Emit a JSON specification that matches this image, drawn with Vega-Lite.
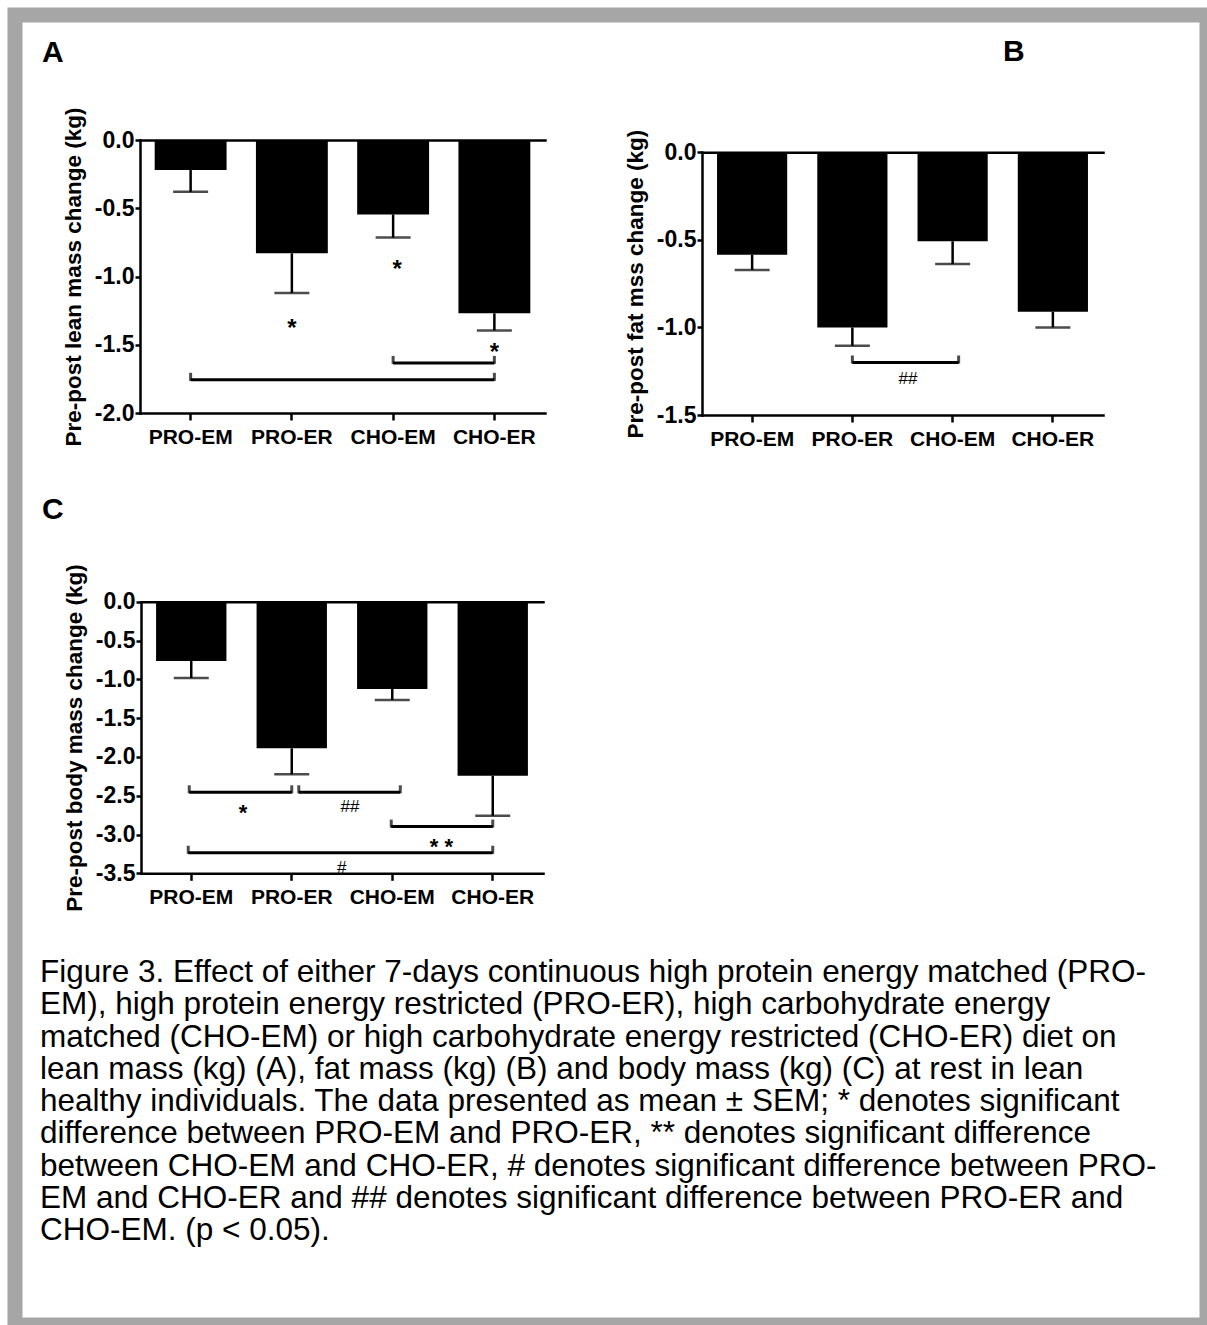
{
  "$schema": "https://vega.github.io/schema/vega-lite/v6.json",
  "width": 1192,
  "height": 1310,
  "autosize": {"type": "none"},
  "padding": {"left": 15, "top": 15, "right": 0, "bottom": 0},
  "background": "white",
  "config": {
    "font": "Liberation Sans",
    "view": {"fill": "white", "stroke": "#a6a6a6", "strokeWidth": 15},
    "text": {"color": "black", "font": "Liberation Sans"},
    "axis": {
      "domainColor": "black", "domainWidth": 2.5, "domainCap": "square",
      "tickColor": "black", "tickWidth": 2.5, "tickSize": 5,
      "labelColor": "black", "labelFont": "Liberation Sans", "labelFontWeight": "bold", "labelFontSize": 21, "labelPadding": 1,
      "titleFont": "Liberation Sans", "titleFontWeight": "bold", "titleFontSize": 22.5, "titleColor": "black",
      "grid": false, "labelOverlap": false, "labelBound": false, "labelFlush": false
    },
    "axisY": {"labelFontSize": 23}
  },
  "datasets": {
    "lean": [
      {"group": "PRO-EM", "mean": -0.22, "lower": -0.38},
      {"group": "PRO-ER", "mean": -0.83, "lower": -1.12},
      {"group": "CHO-EM", "mean": -0.545, "lower": -0.715},
      {"group": "CHO-ER", "mean": -1.27, "lower": -1.395}
    ],
    "fat": [
      {"group": "PRO-EM", "mean": -0.585, "lower": -0.672},
      {"group": "PRO-ER", "mean": -1.0, "lower": -1.104},
      {"group": "CHO-EM", "mean": -0.508, "lower": -0.638},
      {"group": "CHO-ER", "mean": -0.91, "lower": -1.0}
    ],
    "body": [
      {"group": "PRO-EM", "mean": -0.764, "lower": -0.983},
      {"group": "PRO-ER", "mean": -1.889, "lower": -2.224},
      {"group": "CHO-EM", "mean": -1.125, "lower": -1.267},
      {"group": "CHO-ER", "mean": -2.242, "lower": -2.758}
    ],
    "leanBrackets": [
      {"from": 3, "to": 4, "y": -1.633},
      {"from": 1, "to": 4, "y": -1.757}
    ],
    "fatBrackets": [
      {"from": 2, "to": 3.06, "y": -1.2}
    ],
    "bodyBrackets": [
      {"from": 0.98, "to": 2, "y": -2.456},
      {"from": 2.07, "to": 3.08, "y": -2.456},
      {"from": 2.99, "to": 4, "y": -2.898},
      {"from": 0.97, "to": 4, "y": -3.235}
    ],
    "leanMarks": [
      {"x": 2, "y": -1.341, "label": "*"},
      {"x": 3.04, "y": -0.908, "label": "*"},
      {"x": 4, "y": -1.516, "label": "*"}
    ],
    "fatMarks": [
      {"x": 2.555, "y": -1.289, "label": "##"}
    ],
    "bodyMarks": [
      {"x": 1.515, "y": -2.642, "label": "*"},
      {"x": 3.49, "y": -3.084, "label": "* *"},
      {"x": 2.58, "y": -2.633, "label": "##"},
      {"x": 2.497, "y": -3.415, "label": "#"}
    ],
    "caption": [
      {"line": 1, "text": "Figure 3. Effect of either 7-days continuous high protein energy matched (PRO-"},
      {"line": 2, "text": "EM), high protein energy restricted (PRO-ER), high carbohydrate energy"},
      {"line": 3, "text": "matched (CHO-EM) or high carbohydrate energy restricted (CHO-ER) diet on"},
      {"line": 4, "text": "lean mass (kg) (A), fat mass (kg) (B) and body mass (kg) (C) at rest in lean"},
      {"line": 5, "text": "healthy individuals. The data presented as mean ± SEM; * denotes significant"},
      {"line": 6, "text": "difference between PRO-EM and PRO-ER, ** denotes significant difference"},
      {"line": 7, "text": "between CHO-EM and CHO-ER, # denotes significant difference between PRO-"},
      {"line": 8, "text": "EM and CHO-ER and ## denotes significant difference between PRO-ER and"},
      {"line": 9, "text": "CHO-EM. (p < 0.05)."}
    ]
  },
  "layer": [
    {
      "layer": [
        {
          "data": {"name": "lean"},
          "layer": [
            {
              "mark": {"type": "bar", "color": "black"},
              "encoding": {
                "x": {"field": "group", "type": "nominal", "sort": null,
                  "scale": {"range": [125, 530], "paddingInner": 0.29, "paddingOuter": 0.145},
                  "axis": {"orient": "bottom", "offset": -912, "title": null, "tickSize": 7, "labelPadding": 6, "labelAngle": 0}},
                "y": {"field": "mean", "type": "quantitative",
                  "scale": {"domain": [-2, 0], "range": [398, 125], "nice": false, "zero": false},
                  "axis": {"orient": "left", "offset": -125, "values": [-2, -1.5, -1, -0.5, 0],
                    "labelExpr": "(datum.value < 0 ? '-' : '') + format(abs(datum.value), '.1f')",
                    "title": "Pre-post lean mass change (kg)", "titlePadding": 9}},
                "y2": {"datum": 0}
              }
            },
            {
              "mark": {"type": "rule", "color": "black", "strokeWidth": 2.5},
              "encoding": {
                "x": {"field": "group", "type": "nominal", "sort": null},
                "y": {"field": "mean", "type": "quantitative"},
                "y2": {"field": "lower"}
              }
            },
            {
              "mark": {"type": "tick", "color": "black", "orient": "horizontal", "size": 35, "thickness": 2.5},
              "encoding": {
                "x": {"field": "group", "type": "nominal", "sort": null},
                "y": {"field": "lower", "type": "quantitative"}
              }
            }
          ]
        },
        {
          "layer": [
            {
              "data": {"name": "leanBrackets"},
              "mark": {"type": "rule", "color": "black", "strokeWidth": 3},
              "encoding": {
                "x": {"field": "from", "type": "quantitative",
                  "scale": {"domain": [0.5, 4.5], "range": [125, 530], "nice": false, "zero": false},
                  "axis": {"orient": "top", "offset": -125, "ticks": false, "labels": false, "title": null, "domain": true}},
                "x2": {"field": "to"},
                "y": {"field": "y", "type": "quantitative"}
              }
            },
            {
              "data": {"name": "leanBrackets"},
              "transform": [{"fold": ["from", "to"], "as": ["end", "pos"]}],
              "mark": {"type": "tick", "color": "black", "orient": "vertical", "size": 8, "thickness": 3, "yOffset": -3},
              "encoding": {
                "x": {"field": "pos", "type": "quantitative"},
                "y": {"field": "y", "type": "quantitative"}
              }
            },
            {
              "data": {"name": "leanMarks"},
              "mark": {"type": "text", "fontSize": 24, "fontWeight": "bold", "baseline": "middle", "dy": 6},
              "encoding": {
                "x": {"field": "x", "type": "quantitative"},
                "y": {"field": "y", "type": "quantitative"},
                "text": {"field": "label"}
              }
            },
            {
              "data": {"values": [{"label": "A"}]},
              "mark": {"type": "text", "fontSize": 30, "fontWeight": "bold", "align": "left", "baseline": "alphabetic"},
              "encoding": {
                "x": {"datum": -0.468, "type": "quantitative"},
                "y": {"datum": 0.571, "type": "quantitative"},
                "text": {"field": "label"}
              }
            }
          ]
        }
      ],
      "resolve": {"scale": {"x": "independent"}}
    },
    {
      "layer": [
        {
          "data": {"name": "fat"},
          "layer": [
            {
              "mark": {"type": "bar", "color": "black"},
              "encoding": {
                "x": {"field": "group", "type": "nominal", "sort": null,
                  "scale": {"range": [687, 1088], "paddingInner": 0.3, "paddingOuter": 0.15},
                  "axis": {"orient": "bottom", "offset": -910, "title": null, "tickSize": 7, "labelPadding": 6, "labelAngle": 0}},
                "y": {"field": "mean", "type": "quantitative",
                  "scale": {"domain": [-1.5, 0], "range": [400, 137.3], "nice": false, "zero": false},
                  "axis": {"orient": "left", "offset": -687, "values": [-1.5, -1, -0.5, 0],
                    "labelExpr": "(datum.value < 0 ? '-' : '') + format(abs(datum.value), '.1f')",
                    "title": "Pre-post fat mss change (kg)", "titlePadding": 9}},
                "y2": {"datum": 0}
              }
            },
            {
              "mark": {"type": "rule", "color": "black", "strokeWidth": 2.5},
              "encoding": {
                "x": {"field": "group", "type": "nominal", "sort": null},
                "y": {"field": "mean", "type": "quantitative"},
                "y2": {"field": "lower"}
              }
            },
            {
              "mark": {"type": "tick", "color": "black", "orient": "horizontal", "size": 35, "thickness": 2.5},
              "encoding": {
                "x": {"field": "group", "type": "nominal", "sort": null},
                "y": {"field": "lower", "type": "quantitative"}
              }
            }
          ]
        },
        {
          "layer": [
            {
              "data": {"name": "fatBrackets"},
              "mark": {"type": "rule", "color": "black", "strokeWidth": 3},
              "encoding": {
                "x": {"field": "from", "type": "quantitative",
                  "scale": {"domain": [0.5, 4.5], "range": [687, 1088], "nice": false, "zero": false},
                  "axis": {"orient": "top", "offset": -137.3, "ticks": false, "labels": false, "title": null, "domain": true}},
                "x2": {"field": "to"},
                "y": {"field": "y", "type": "quantitative"}
              }
            },
            {
              "data": {"name": "fatBrackets"},
              "transform": [{"fold": ["from", "to"], "as": ["end", "pos"]}],
              "mark": {"type": "tick", "color": "black", "orient": "vertical", "size": 8, "thickness": 3, "yOffset": -3},
              "encoding": {
                "x": {"field": "pos", "type": "quantitative"},
                "y": {"field": "y", "type": "quantitative"}
              }
            },
            {
              "data": {"name": "fatMarks"},
              "mark": {"type": "text", "fontSize": 17, "baseline": "middle", "dy": 1},
              "encoding": {
                "x": {"field": "x", "type": "quantitative"},
                "y": {"field": "y", "type": "quantitative"},
                "text": {"field": "label"}
              }
            },
            {
              "data": {"values": [{"label": "B"}]},
              "mark": {"type": "text", "fontSize": 30, "fontWeight": "bold", "align": "left", "baseline": "alphabetic"},
              "encoding": {
                "x": {"datum": 3.502, "type": "quantitative"},
                "y": {"datum": 0.521, "type": "quantitative"},
                "text": {"field": "label"}
              }
            }
          ]
        }
      ],
      "resolve": {"scale": {"x": "independent"}}
    },
    {
      "layer": [
        {
          "data": {"name": "body"},
          "layer": [
            {
              "mark": {"type": "bar", "color": "black"},
              "encoding": {
                "x": {"field": "group", "type": "nominal", "sort": null,
                  "scale": {"range": [126, 528], "paddingInner": 0.3, "paddingOuter": 0.15},
                  "axis": {"orient": "bottom", "offset": -451.7, "title": null, "tickSize": 7, "labelPadding": 6, "labelAngle": 0}},
                "y": {"field": "mean", "type": "quantitative",
                  "scale": {"domain": [-3.5, 0], "range": [858.3, 586.7], "nice": false, "zero": false},
                  "axis": {"orient": "left", "offset": -126, "values": [-3.5, -3, -2.5, -2, -1.5, -1, -0.5, 0],
                    "labelExpr": "(datum.value < 0 ? '-' : '') + format(abs(datum.value), '.1f')",
                    "title": "Pre-post body mass change (kg)", "titlePadding": 9}},
                "y2": {"datum": 0}
              }
            },
            {
              "mark": {"type": "rule", "color": "black", "strokeWidth": 2.5},
              "encoding": {
                "x": {"field": "group", "type": "nominal", "sort": null},
                "y": {"field": "mean", "type": "quantitative"},
                "y2": {"field": "lower"}
              }
            },
            {
              "mark": {"type": "tick", "color": "black", "orient": "horizontal", "size": 35, "thickness": 2.5},
              "encoding": {
                "x": {"field": "group", "type": "nominal", "sort": null},
                "y": {"field": "lower", "type": "quantitative"}
              }
            }
          ]
        },
        {
          "layer": [
            {
              "data": {"name": "bodyBrackets"},
              "mark": {"type": "rule", "color": "black", "strokeWidth": 3},
              "encoding": {
                "x": {"field": "from", "type": "quantitative",
                  "scale": {"domain": [0.5, 4.5], "range": [126, 528], "nice": false, "zero": false},
                  "axis": {"orient": "top", "offset": -586.7, "ticks": false, "labels": false, "title": null, "domain": true}},
                "x2": {"field": "to"},
                "y": {"field": "y", "type": "quantitative"}
              }
            },
            {
              "data": {"name": "bodyBrackets"},
              "transform": [{"fold": ["from", "to"], "as": ["end", "pos"]}],
              "mark": {"type": "tick", "color": "black", "orient": "vertical", "size": 8, "thickness": 3, "yOffset": -3},
              "encoding": {
                "x": {"field": "pos", "type": "quantitative"},
                "y": {"field": "y", "type": "quantitative"}
              }
            },
            {
              "data": {"name": "bodyMarks"},
              "transform": [{"filter": "indexof(datum.label, '#') < 0"}],
              "mark": {"type": "text", "fontSize": 22, "fontWeight": "bold", "baseline": "middle", "dy": 6},
              "encoding": {
                "x": {"field": "x", "type": "quantitative"},
                "y": {"field": "y", "type": "quantitative"},
                "text": {"field": "label"}
              }
            },
            {
              "data": {"name": "bodyMarks"},
              "transform": [{"filter": "indexof(datum.label, '#') >= 0"}],
              "mark": {"type": "text", "fontSize": 17, "baseline": "middle", "dy": 1},
              "encoding": {
                "x": {"field": "x", "type": "quantitative"},
                "y": {"field": "y", "type": "quantitative"},
                "text": {"field": "label"}
              }
            },
            {
              "data": {"values": [{"label": "C"}]},
              "mark": {"type": "text", "fontSize": 30, "fontWeight": "bold", "align": "left", "baseline": "alphabetic"},
              "encoding": {
                "x": {"datum": -0.485, "type": "quantitative"},
                "y": {"datum": 1.066, "type": "quantitative"},
                "text": {"field": "label"}
              }
            }
          ]
        }
      ],
      "resolve": {"scale": {"x": "independent"}}
    },
    {
      "data": {"name": "caption"},
      "mark": {"type": "text", "align": "left", "baseline": "alphabetic", "fontSize": 31.5},
      "encoding": {
        "x": {"datum": 0, "type": "quantitative", "scale": {"domain": [0, 1], "range": [25, 1170]}, "axis": null},
        "y": {"field": "line", "type": "quantitative", "scale": {"domain": [1, 9], "range": [967, 1225], "nice": false, "zero": false}, "axis": null},
        "text": {"field": "text"}
      }
    }
  ],
  "resolve": {"scale": {"x": "independent", "y": "independent"}}
}
